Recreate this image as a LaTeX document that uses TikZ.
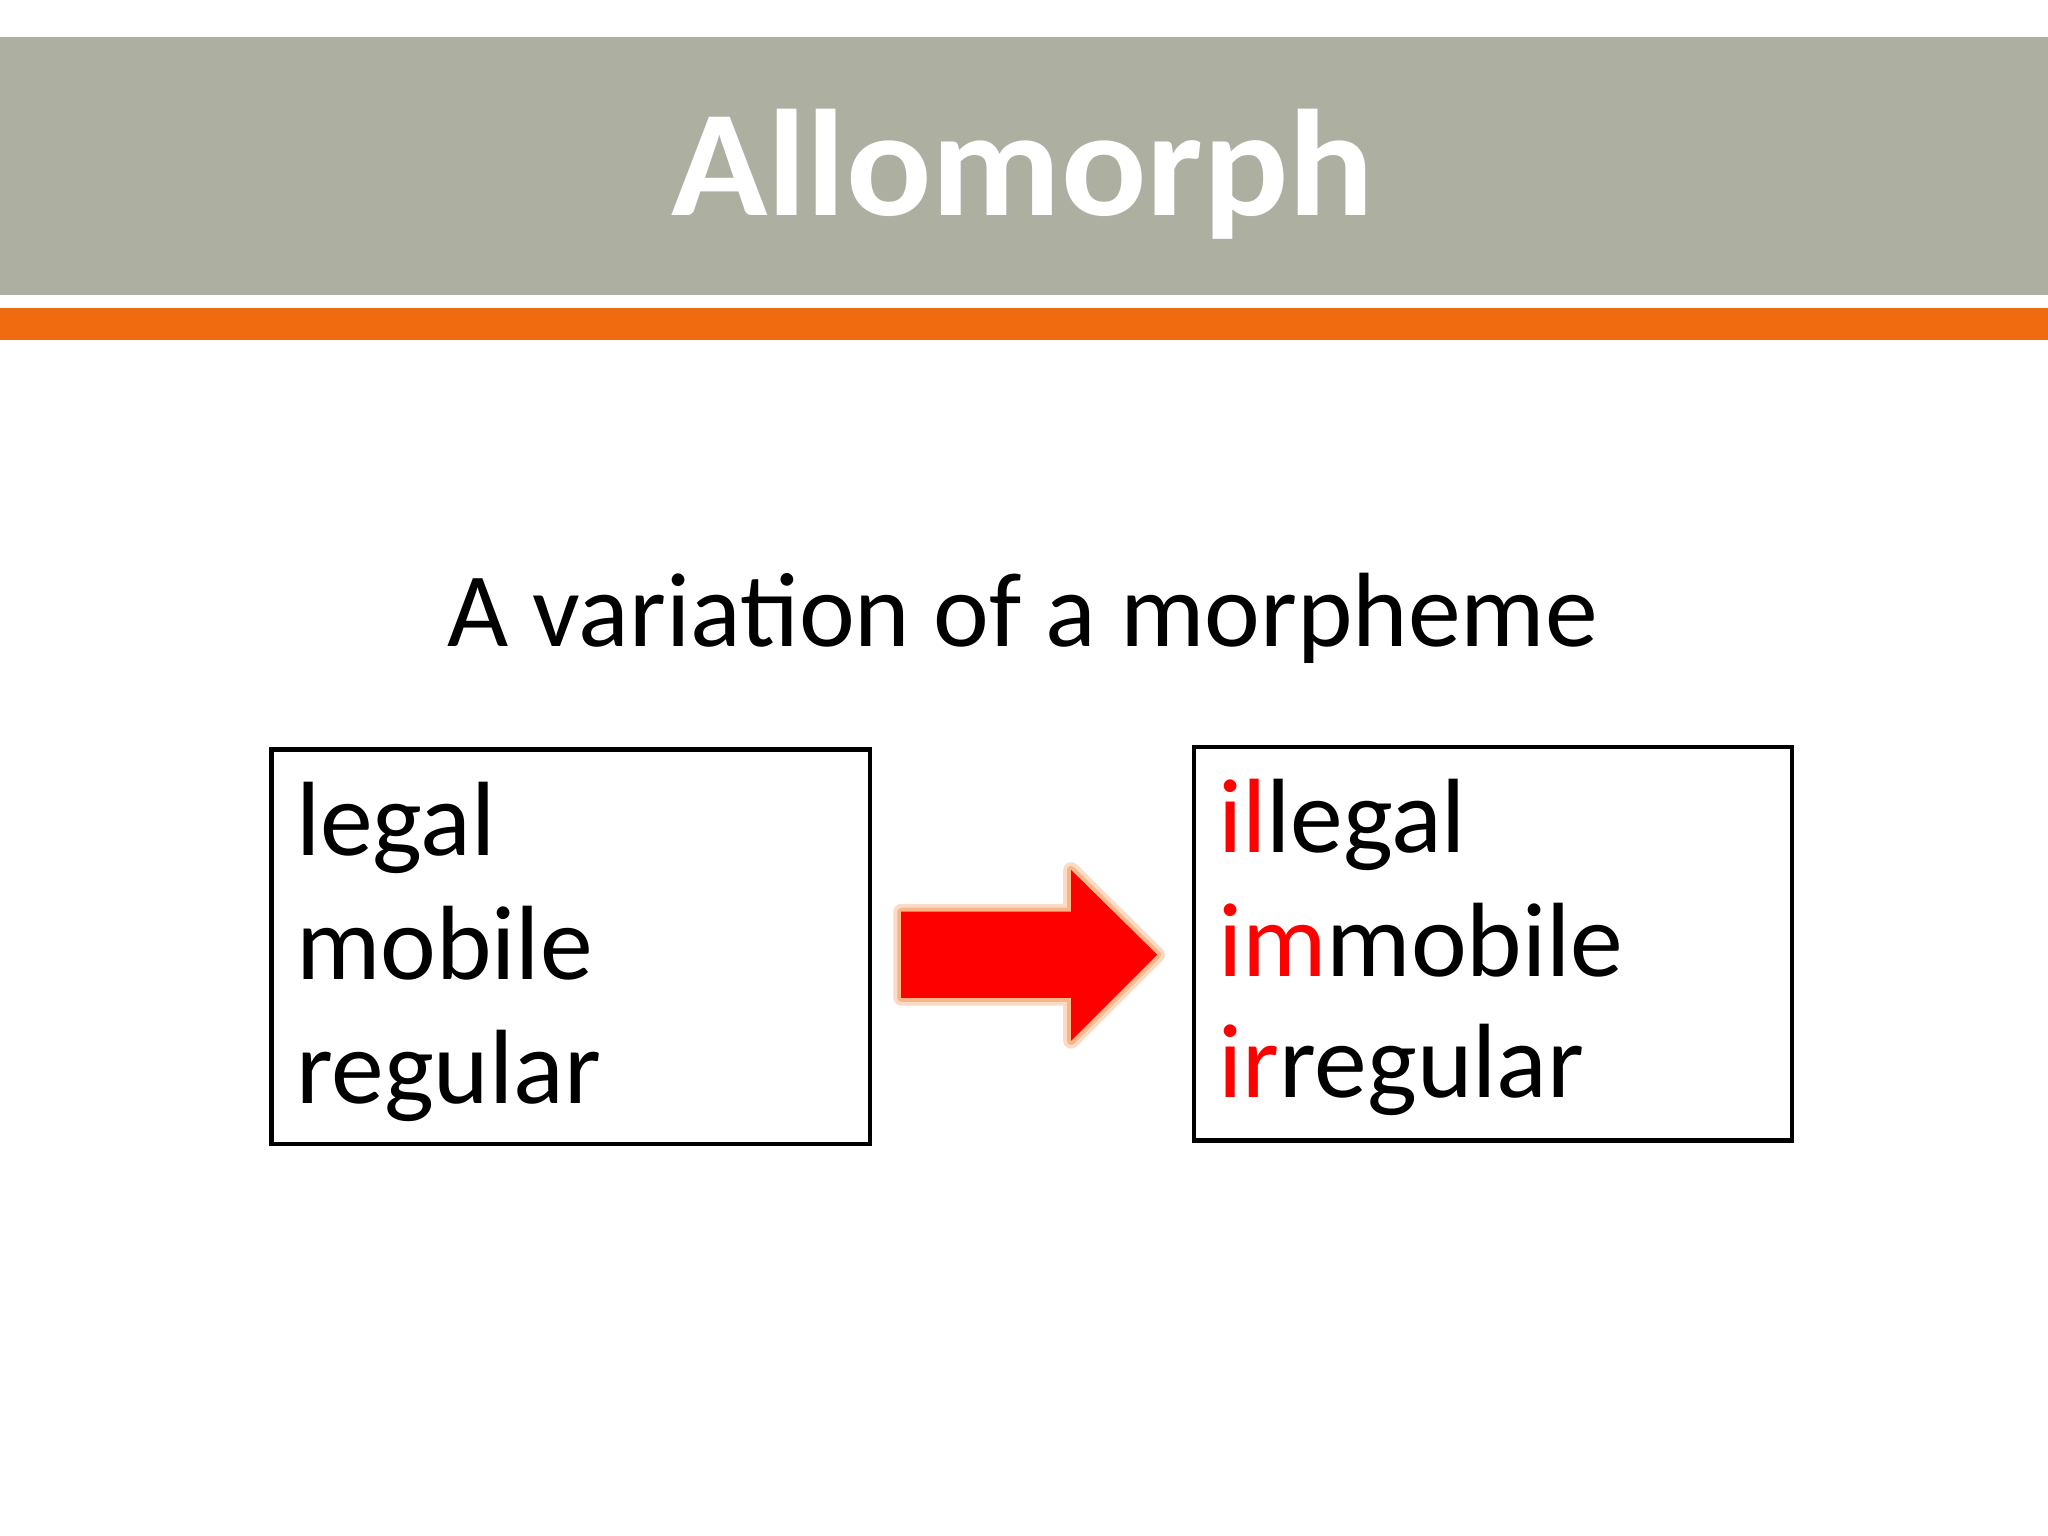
\documentclass[tikz,border=0pt]{standalone}
\usepackage{fontspec}
\setmainfont{Carlito}
\definecolor{band}{HTML}{ADAFA0}
\definecolor{orng}{HTML}{F06A0F}
\definecolor{redx}{HTML}{FF0000}
\begin{document}
\begin{tikzpicture}[x=0.01cm,y=-0.01cm,
  word/.style={anchor=base west,inner sep=0pt,font=\fontsize{23}{27}\selectfont},
  wbox/.style={draw=black,line width=0.035cm}]
\useasboundingbox (0,0) rectangle (1568,1176);
\fill[band] (0,28) rectangle (1568,226);
\fill[orng] (0,236) rectangle (1568,260);
\node[anchor=base,inner sep=0pt,text=white,font=\fontsize{33}{38}\selectfont\bfseries,xscale=1.05] (title) at (783,165) {Allomorph};
\node[anchor=base,inner sep=0pt,font=\fontsize{23}{27}\selectfont] (sub) at (783,495) {A variation of a morpheme};
\draw[wbox] (208,574) rectangle (666,876);
\draw[wbox] (914,572) rectangle (1372,873);
\node[word] (l1) at (226,655) {legal};
\node[word] (l2) at (226,750) {mobile};
\node[word] (l3) at (226,845) {regular};
\node[word] (r1) at (932,653) {\textcolor{redx}{il}legal};
\node[word] (r2) at (932,748) {\textcolor{redx}{im}mobile};
\node[word] (r3) at (932,840) {\textcolor{redx}{ir}regular};
\def\arrowpath{(690,698) -- (820,698) -- (820,666) -- (886,731) -- (820,797) -- (820,764) -- (690,764) -- cycle}
\draw[orng!40,line width=0.12cm,line join=round,opacity=0.6] \arrowpath;
\draw[orng!60,line width=0.06cm,line join=round,opacity=0.7] \arrowpath;
\fill[redx] \arrowpath;
\end{tikzpicture}
\end{document}
